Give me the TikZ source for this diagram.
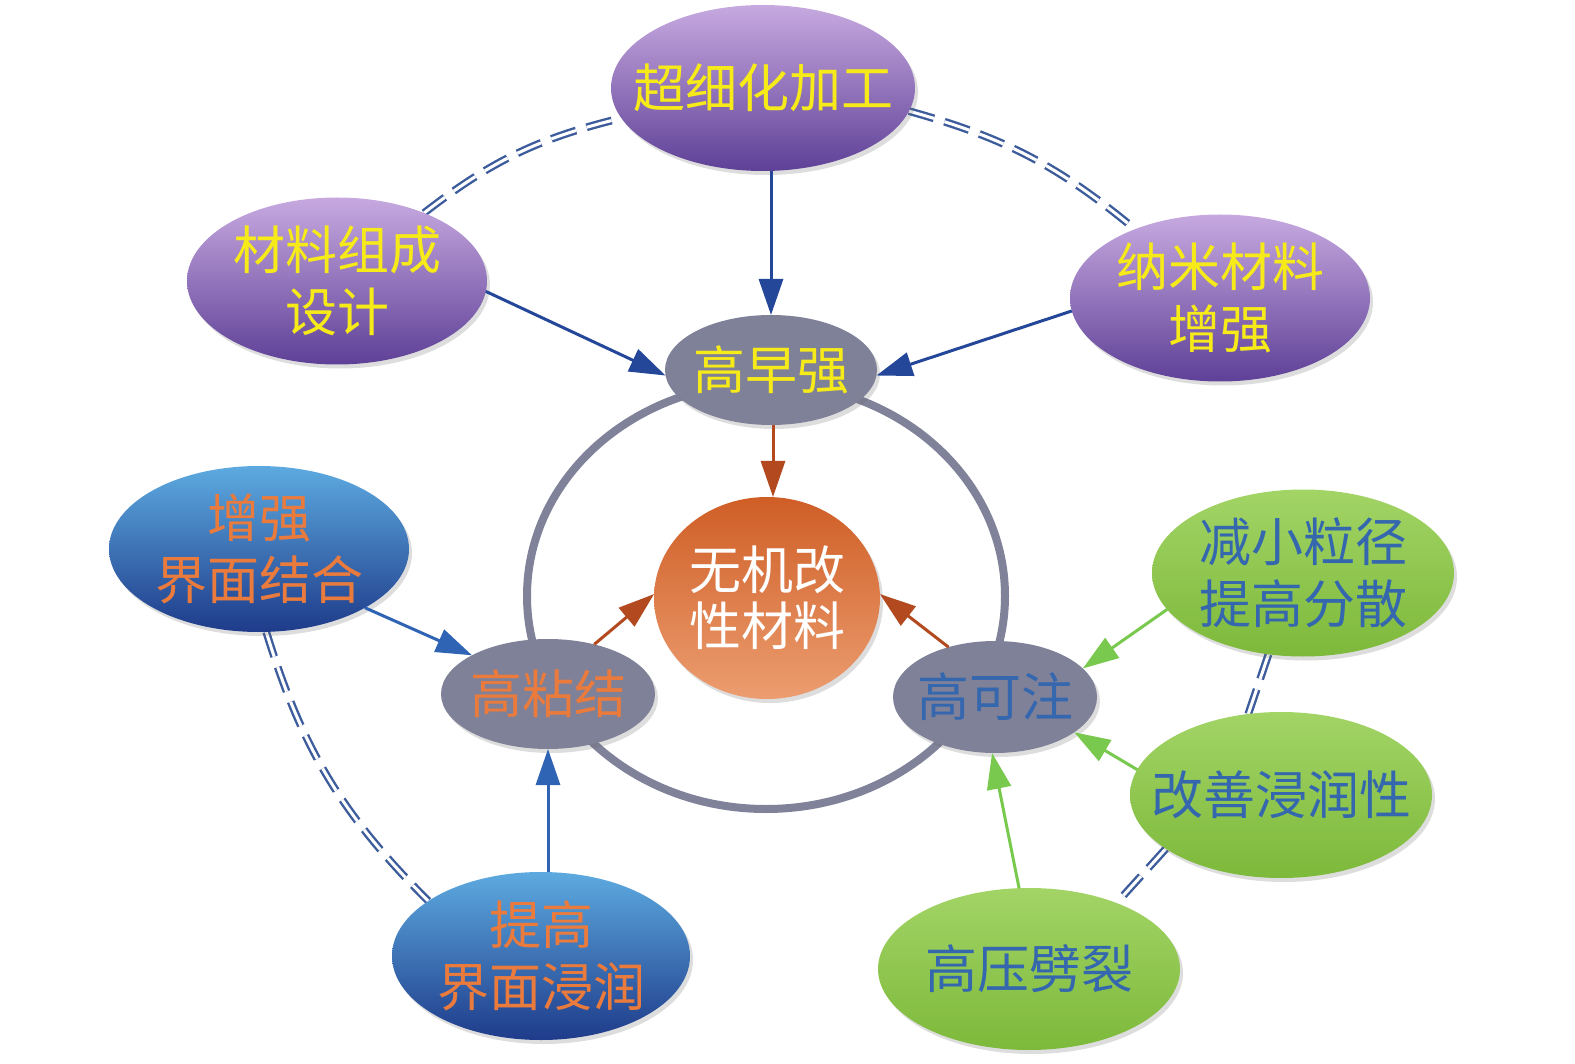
\documentclass[tikz,border=0pt]{standalone}
\usepackage{fontspec}
\newfontfamily\cjk{Noto Sans CJK SC}
\usetikzlibrary{shapes.geometric,arrows.meta,shadows}
\pgfdeclarelayer{background}
\pgfsetlayers{background,main}
\definecolor{pTop}{HTML}{C7A9E0}
\definecolor{pBot}{HTML}{5E4097}
\definecolor{bTop}{HTML}{5DAAE0}
\definecolor{bBot}{HTML}{1E3B8A}
\definecolor{gTop}{HTML}{A2D466}
\definecolor{gBot}{HTML}{7DB93A}
\definecolor{grayN}{HTML}{7F8198}
\definecolor{oTop}{HTML}{CF5E26}
\definecolor{oBot}{HTML}{EC9D70}
\definecolor{ytext}{HTML}{F6EA18}
\definecolor{otext}{HTML}{EA7B3C}
\definecolor{btext}{HTML}{3467AE}
\definecolor{arrDB}{HTML}{24479A}
\definecolor{arrBr}{HTML}{B3491F}
\definecolor{arrBl}{HTML}{2F63B3}
\definecolor{arrGr}{HTML}{79C94F}
\definecolor{dashc}{HTML}{3D5C9C}
\definecolor{ringc}{HTML}{80829A}
\tikzset{
  bub/.style 2 args={ellipse, inner sep=0pt, outer sep=0pt,
    minimum width=#1, minimum height=#2,
    drop shadow={shadow xshift=3pt, shadow yshift=-4pt, opacity=0.22, fill=black!60}},
  purp/.style={top color=pTop, bottom color=pBot},
  blu/.style={top color=bTop, bottom color=bBot},
  grn/.style={top color=gTop, bottom color=gBot},
  gry/.style={fill=grayN},
  org/.style={top color=oTop, bottom color=oBot},
  txt/.style={font=\cjk\fontsize{52}{62}\selectfont, align=center, inner sep=0pt},
  ytxt/.style={txt, text=ytext},
  otxt/.style={txt, text=otext},
  btxt/.style={txt, text=btext},
  wtxt/.style={txt, text=white, font=\cjk\fontsize{52}{56}\selectfont},
  arr/.style={line width=3pt, -{Triangle[length=36pt,width=24pt]}},
  dbl/.style={draw=dashc, line width=2.4pt, double=white, double distance=3pt,
    dash pattern=on 26pt off 11pt}
}
\begin{document}
\begin{tikzpicture}[x=1pt,y=-1pt]
\useasboundingbox (0,0) rectangle (1575,1064);
% ring
\draw[ringc, line width=8pt] (766,596) ellipse [x radius=239, y radius=213];
% nodes
\node[bub={304pt}{166pt}, purp, label={[ytxt]center:超细化加工}] (ult) at (763,88) {};
\node[bub={300pt}{167pt}, purp, label={[ytxt]center:材料组成\\设计}] (mat) at (337,281) {};
\node[bub={300pt}{167pt}, purp, label={[ytxt]center:纳米材料\\增强}] (nano) at (1220,298) {};
\node[bub={212pt}{110pt}, gry, label={[ytxt]center:高早强}] (ezq) at (771,370) {};
\node[bub={226pt}{202pt}, org, label={[wtxt]center:无机改\\性材料}] (cen) at (767,598) {};
\node[bub={214pt}{110pt}, gry, label={[otxt]center:高粘结}] (gnj) at (548,694) {};
\node[bub={204pt}{112pt}, gry, label={[btxt]center:高可注}] (gkz) at (995,697) {};
\node[bub={300pt}{166pt}, blu, label={[otxt]center:增强\\界面结合}] (enh) at (259,549) {};
\node[bub={298pt}{168pt}, blu, label={[otxt]center:提高\\界面浸润}] (tig) at (541,956) {};
\node[bub={302pt}{167pt}, grn, label={[btxt]center:减小粒径\\提高分散}] (red) at (1303,573) {};
\node[bub={302pt}{166pt}, grn, label={[btxt]center:改善浸润性}] (imp) at (1281,795) {};
\node[bub={302pt}{162pt}, grn, label={[btxt]center:高压劈裂}] (hp) at (1029,969) {};
% double dashed links
\begin{pgfonlayer}{background}
\draw[dbl] (mat.38) to[bend left=12] (ult.192);
\draw[dbl] (ult.-9) to[bend left=12] (nano.141);
\draw[dbl] (enh.-85) to[bend right=14] (tig.154);
\draw[dbl] (red.247) -- (imp.112);
\draw[dbl] (imp.205) -- (hp.37);
\end{pgfonlayer}
% arrows
\draw[arr, arrDB] (ult.south -| ezq.north) -- (ezq.north);
\draw[arr, arrDB] (mat.-4) -- (ezq.183);
\draw[arr, arrDB] (nano.185) -- (ezq.-3);
\draw[arr, arrBr] ([xshift=2pt]ezq.south) -- ([xshift=2pt]ezq.south |- cen.north);
\draw[arr, arrBr] (gnj.47) -- (cen.178);
\draw[arr, arrBr] (gkz.133) -- (cen.2);
\draw[arr, arrBl] (enh.-29) -- (gnj.153);
\draw[arr, arrBl] (gnj.south |- tig.north) -- (gnj.south);
\draw[arr, arrGr] (red.195) -- (gkz.18);
\draw[arr, arrGr] (imp.170) -- (gkz.-24);
\draw[arr, arrGr] (hp.97) -- (gkz.-93);
\end{tikzpicture}
\end{document}
